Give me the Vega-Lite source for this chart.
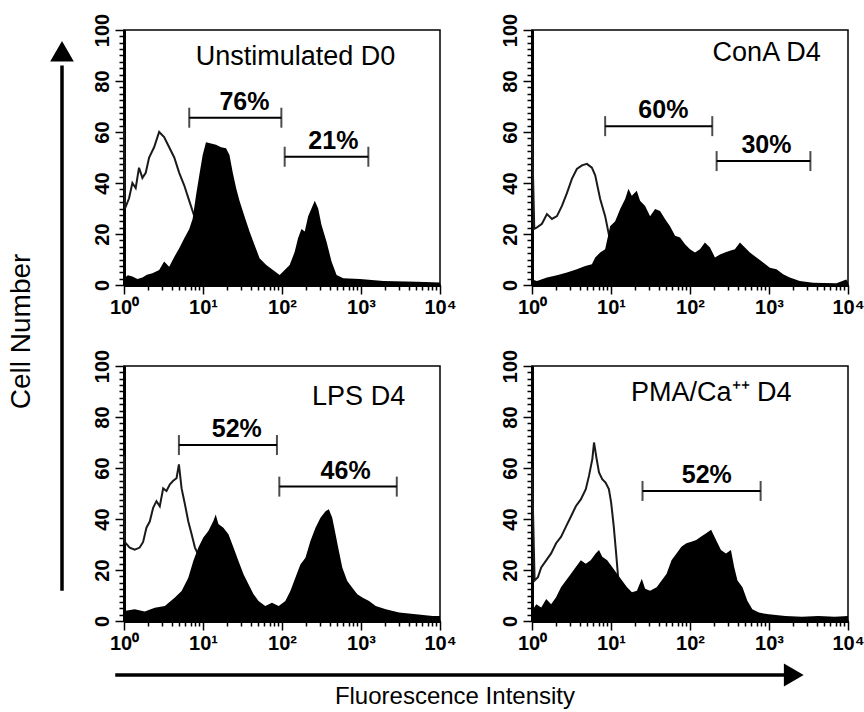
{
"$schema": "https://vega.github.io/schema/vega-lite/v6.json",
"padding": {"left": 0, "top": 12, "right": 0, "bottom": 0},
"background": "white",
"config": {
  "view": {"stroke": "black", "strokeWidth": 1.5},
  "font": "Liberation Sans",
  "axis": {"domainColor": "black", "domainWidth": 3, "tickColor": "black", "tickWidth": 1.5, "labelColor": "black", "labelFont": "Liberation Sans", "labelFontWeight": "bold", "grid": false, "title": null, "labelFlush": false, "labelBound": false},
  "axisY": {"labelAngle": 270, "labelFontSize": 20, "labelPadding": 3},
  "axisX": {"labelFontSize": 20, "labelPadding": 3},
  "area": {"color": "black", "opacity": 1},
  "line": {"stroke": "#1a1a1a", "strokeWidth": 2},
  "rule": {"color": "black", "strokeWidth": 2},
  "tick": {"color": "black", "size": 20, "thickness": 2, "orient": "vertical"},
  "text": {"color": "black", "font": "Liberation Sans"}
},
"datasets": {
"h": [
{"p":"A","k":"c","e":0,"n":62},{"p":"A","k":"c","e":0.013,"n":30},{"p":"A","k":"c","e":0.064,"n":34},{"p":"A","k":"c","e":0.106,"n":40},{"p":"A","k":"c","e":0.148,"n":38},{"p":"A","k":"c","e":0.19,"n":46},{"p":"A","k":"c","e":0.233,"n":42},{"p":"A","k":"c","e":0.275,"n":44},{"p":"A","k":"c","e":0.318,"n":50},{"p":"A","k":"c","e":0.381,"n":54},{"p":"A","k":"c","e":0.445,"n":60},{"p":"A","k":"c","e":0.508,"n":58},{"p":"A","k":"c","e":0.572,"n":54},{"p":"A","k":"c","e":0.636,"n":50},{"p":"A","k":"c","e":0.699,"n":44},{"p":"A","k":"c","e":0.763,"n":39},{"p":"A","k":"c","e":0.826,"n":33},{"p":"A","k":"c","e":0.89,"n":27},{"p":"A","k":"c","e":0.953,"n":18},{"p":"A","k":"c","e":1.038,"n":9},{"p":"A","k":"c","e":1.123,"n":4},{"p":"A","k":"c","e":1.25,"n":1},{"p":"A","k":"c","e":1.59,"n":0.5},{"p":"A","k":"c","e":2.0,"n":0.3},
{"p":"A","k":"f","e":0,"n":2.6},{"p":"A","k":"f","e":0.05,"n":3.8},{"p":"A","k":"f","e":0.106,"n":3.3},{"p":"A","k":"f","e":0.17,"n":2.4},{"p":"A","k":"f","e":0.233,"n":2.9},{"p":"A","k":"f","e":0.29,"n":4.0},{"p":"A","k":"f","e":0.36,"n":4.6},{"p":"A","k":"f","e":0.445,"n":5.9},{"p":"A","k":"f","e":0.508,"n":9.2},{"p":"A","k":"f","e":0.572,"n":7.2},{"p":"A","k":"f","e":0.636,"n":11},{"p":"A","k":"f","e":0.699,"n":14.4},{"p":"A","k":"f","e":0.763,"n":18.3},{"p":"A","k":"f","e":0.826,"n":22},{"p":"A","k":"f","e":0.869,"n":26},{"p":"A","k":"f","e":0.911,"n":35},{"p":"A","k":"f","e":0.953,"n":43},{"p":"A","k":"f","e":0.996,"n":51},{"p":"A","k":"f","e":1.038,"n":56},{"p":"A","k":"f","e":1.102,"n":55.5},{"p":"A","k":"f","e":1.165,"n":55},{"p":"A","k":"f","e":1.229,"n":54},{"p":"A","k":"f","e":1.292,"n":53.6},{"p":"A","k":"f","e":1.335,"n":51},{"p":"A","k":"f","e":1.377,"n":44},{"p":"A","k":"f","e":1.419,"n":38},{"p":"A","k":"f","e":1.462,"n":33},{"p":"A","k":"f","e":1.525,"n":27},{"p":"A","k":"f","e":1.589,"n":21},{"p":"A","k":"f","e":1.653,"n":15.7},{"p":"A","k":"f","e":1.716,"n":10.5},{"p":"A","k":"f","e":1.801,"n":7.8},{"p":"A","k":"f","e":1.886,"n":5.9},{"p":"A","k":"f","e":1.97,"n":3.9},{"p":"A","k":"f","e":2.034,"n":5.9},{"p":"A","k":"f","e":2.097,"n":7.8},{"p":"A","k":"f","e":2.161,"n":13},{"p":"A","k":"f","e":2.203,"n":18.3},{"p":"A","k":"f","e":2.246,"n":22},{"p":"A","k":"f","e":2.288,"n":21},{"p":"A","k":"f","e":2.331,"n":27},{"p":"A","k":"f","e":2.373,"n":30},{"p":"A","k":"f","e":2.415,"n":33},{"p":"A","k":"f","e":2.458,"n":30},{"p":"A","k":"f","e":2.5,"n":23.5},{"p":"A","k":"f","e":2.564,"n":17},{"p":"A","k":"f","e":2.627,"n":9.2},{"p":"A","k":"f","e":2.691,"n":3.9},{"p":"A","k":"f","e":2.775,"n":2.6},{"p":"A","k":"f","e":2.987,"n":2.4},{"p":"A","k":"f","e":3.284,"n":1.6},{"p":"A","k":"f","e":3.708,"n":1.3},{"p":"A","k":"f","e":4,"n":1},
{"p":"A","k":"g","e1":0.826,"e2":1.992,"n":65.6,"tx":1.525,"lab":"76%"},{"p":"A","k":"g","e1":2.034,"e2":3.093,"n":50.3,"tx":2.65,"lab":"21%"},
{"p":"A","k":"t","tx":2.17,"n":89.5,"lab":"Unstimulated D0"},
{"p":"B","k":"c","e":0,"n":60},{"p":"B","k":"c","e":0.029,"n":22},{"p":"B","k":"c","e":0.063,"n":22.6},{"p":"B","k":"c","e":0.126,"n":24},{"p":"B","k":"c","e":0.189,"n":27.8},{"p":"B","k":"c","e":0.253,"n":25.9},{"p":"B","k":"c","e":0.316,"n":27},{"p":"B","k":"c","e":0.379,"n":31},{"p":"B","k":"c","e":0.442,"n":36},{"p":"B","k":"c","e":0.505,"n":41.6},{"p":"B","k":"c","e":0.568,"n":45.5},{"p":"B","k":"c","e":0.632,"n":46.9},{"p":"B","k":"c","e":0.695,"n":47.5},{"p":"B","k":"c","e":0.758,"n":46},{"p":"B","k":"c","e":0.8,"n":43},{"p":"B","k":"c","e":0.863,"n":33.7},{"p":"B","k":"c","e":0.926,"n":27},{"p":"B","k":"c","e":0.968,"n":20.6},{"p":"B","k":"c","e":1.011,"n":14},{"p":"B","k":"c","e":1.074,"n":7.5},{"p":"B","k":"c","e":1.2,"n":2.2},{"p":"B","k":"c","e":1.41,"n":1},{"p":"B","k":"c","e":2.0,"n":0.5},
{"p":"B","k":"f","e":0,"n":2.2},{"p":"B","k":"f","e":0.063,"n":1.6},{"p":"B","k":"f","e":0.189,"n":2.9},{"p":"B","k":"f","e":0.316,"n":3.8},{"p":"B","k":"f","e":0.442,"n":4.9},{"p":"B","k":"f","e":0.568,"n":6.2},{"p":"B","k":"f","e":0.674,"n":7.5},{"p":"B","k":"f","e":0.758,"n":8.1},{"p":"B","k":"f","e":0.8,"n":10.8},{"p":"B","k":"f","e":0.863,"n":12.7},{"p":"B","k":"f","e":0.926,"n":14},{"p":"B","k":"f","e":0.989,"n":23},{"p":"B","k":"f","e":1.053,"n":25},{"p":"B","k":"f","e":1.116,"n":29.8},{"p":"B","k":"f","e":1.179,"n":33.7},{"p":"B","k":"f","e":1.221,"n":37.7},{"p":"B","k":"f","e":1.263,"n":35},{"p":"B","k":"f","e":1.326,"n":37},{"p":"B","k":"f","e":1.368,"n":33},{"p":"B","k":"f","e":1.432,"n":31},{"p":"B","k":"f","e":1.495,"n":27},{"p":"B","k":"f","e":1.558,"n":29.8},{"p":"B","k":"f","e":1.621,"n":29},{"p":"B","k":"f","e":1.684,"n":25.9},{"p":"B","k":"f","e":1.747,"n":23},{"p":"B","k":"f","e":1.811,"n":19.3},{"p":"B","k":"f","e":1.874,"n":18.6},{"p":"B","k":"f","e":1.937,"n":16},{"p":"B","k":"f","e":2.0,"n":14},{"p":"B","k":"f","e":2.063,"n":12.7},{"p":"B","k":"f","e":2.126,"n":14},{"p":"B","k":"f","e":2.189,"n":16.7},{"p":"B","k":"f","e":2.253,"n":14.7},{"p":"B","k":"f","e":2.316,"n":10.8},{"p":"B","k":"f","e":2.379,"n":12},{"p":"B","k":"f","e":2.442,"n":12.7},{"p":"B","k":"f","e":2.505,"n":13.4},{"p":"B","k":"f","e":2.568,"n":14},{"p":"B","k":"f","e":2.632,"n":16.7},{"p":"B","k":"f","e":2.695,"n":14.7},{"p":"B","k":"f","e":2.758,"n":12.7},{"p":"B","k":"f","e":2.842,"n":10.8},{"p":"B","k":"f","e":2.926,"n":8.8},{"p":"B","k":"f","e":3.011,"n":6.8},{"p":"B","k":"f","e":3.095,"n":6.2},{"p":"B","k":"f","e":3.179,"n":4.2},{"p":"B","k":"f","e":3.263,"n":2.9},{"p":"B","k":"f","e":3.389,"n":1.6},{"p":"B","k":"f","e":3.558,"n":0.9},{"p":"B","k":"f","e":3.853,"n":0.7},{"p":"B","k":"f","e":3.979,"n":2.2},{"p":"B","k":"f","e":4,"n":1},
{"p":"B","k":"g","e1":0.926,"e2":2.282,"n":62.3,"tx":1.663,"lab":"60%"},{"p":"B","k":"g","e1":2.337,"e2":3.524,"n":48.6,"tx":2.968,"lab":"30%"},
{"p":"B","k":"t","tx":2.97,"n":90.8,"lab":"ConA D4"},
{"p":"C","k":"c","e":0,"n":65},{"p":"C","k":"c","e":0.008,"n":31},{"p":"C","k":"c","e":0.072,"n":28.8},{"p":"C","k":"c","e":0.136,"n":28},{"p":"C","k":"c","e":0.199,"n":28.8},{"p":"C","k":"c","e":0.242,"n":31},{"p":"C","k":"c","e":0.284,"n":36.6},{"p":"C","k":"c","e":0.326,"n":39},{"p":"C","k":"c","e":0.369,"n":44.4},{"p":"C","k":"c","e":0.411,"n":47},{"p":"C","k":"c","e":0.453,"n":45},{"p":"C","k":"c","e":0.496,"n":52},{"p":"C","k":"c","e":0.538,"n":51},{"p":"C","k":"c","e":0.581,"n":53.6},{"p":"C","k":"c","e":0.623,"n":55},{"p":"C","k":"c","e":0.665,"n":56},{"p":"C","k":"c","e":0.695,"n":61.4},{"p":"C","k":"c","e":0.729,"n":52},{"p":"C","k":"c","e":0.771,"n":45.8},{"p":"C","k":"c","e":0.814,"n":39},{"p":"C","k":"c","e":0.856,"n":34},{"p":"C","k":"c","e":0.898,"n":28.8},{"p":"C","k":"c","e":0.941,"n":26},{"p":"C","k":"c","e":1.025,"n":18},{"p":"C","k":"c","e":1.131,"n":10},{"p":"C","k":"c","e":1.28,"n":5},{"p":"C","k":"c","e":1.492,"n":2.6},{"p":"C","k":"c","e":1.873,"n":1.3},
{"p":"C","k":"f","e":0,"n":3.9},{"p":"C","k":"f","e":0.136,"n":4.6},{"p":"C","k":"f","e":0.263,"n":3.7},{"p":"C","k":"f","e":0.39,"n":5.2},{"p":"C","k":"f","e":0.517,"n":5.9},{"p":"C","k":"f","e":0.644,"n":9.2},{"p":"C","k":"f","e":0.729,"n":11.8},{"p":"C","k":"f","e":0.814,"n":17},{"p":"C","k":"f","e":0.877,"n":23.5},{"p":"C","k":"f","e":0.941,"n":28.8},{"p":"C","k":"f","e":1.004,"n":32.7},{"p":"C","k":"f","e":1.068,"n":35.3},{"p":"C","k":"f","e":1.131,"n":39.2},{"p":"C","k":"f","e":1.161,"n":41.8},{"p":"C","k":"f","e":1.195,"n":38},{"p":"C","k":"f","e":1.258,"n":36.6},{"p":"C","k":"f","e":1.322,"n":34},{"p":"C","k":"f","e":1.386,"n":28.8},{"p":"C","k":"f","e":1.449,"n":23.5},{"p":"C","k":"f","e":1.513,"n":18.3},{"p":"C","k":"f","e":1.576,"n":14.4},{"p":"C","k":"f","e":1.64,"n":10.5},{"p":"C","k":"f","e":1.703,"n":7.8},{"p":"C","k":"f","e":1.788,"n":5.9},{"p":"C","k":"f","e":1.873,"n":7.2},{"p":"C","k":"f","e":1.958,"n":5.9},{"p":"C","k":"f","e":2.042,"n":7.8},{"p":"C","k":"f","e":2.106,"n":11.8},{"p":"C","k":"f","e":2.169,"n":17},{"p":"C","k":"f","e":2.233,"n":22.2},{"p":"C","k":"f","e":2.297,"n":24.8},{"p":"C","k":"f","e":2.36,"n":31.4},{"p":"C","k":"f","e":2.424,"n":36.6},{"p":"C","k":"f","e":2.487,"n":40.5},{"p":"C","k":"f","e":2.551,"n":43},{"p":"C","k":"f","e":2.593,"n":43.8},{"p":"C","k":"f","e":2.636,"n":40.5},{"p":"C","k":"f","e":2.678,"n":34},{"p":"C","k":"f","e":2.72,"n":27.5},{"p":"C","k":"f","e":2.763,"n":21},{"p":"C","k":"f","e":2.826,"n":15.7},{"p":"C","k":"f","e":2.89,"n":13},{"p":"C","k":"f","e":2.953,"n":10.5},{"p":"C","k":"f","e":3.017,"n":9.2},{"p":"C","k":"f","e":3.102,"n":7.8},{"p":"C","k":"f","e":3.186,"n":5.9},{"p":"C","k":"f","e":3.314,"n":4.6},{"p":"C","k":"f","e":3.483,"n":3.3},{"p":"C","k":"f","e":3.695,"n":2.6},{"p":"C","k":"f","e":3.907,"n":2},{"p":"C","k":"f","e":4,"n":2},
{"p":"C","k":"g","e1":0.695,"e2":1.936,"n":69,"tx":1.428,"lab":"52%"},{"p":"C","k":"g","e1":1.966,"e2":3.453,"n":52.7,"tx":2.805,"lab":"46%"},
{"p":"C","k":"t","tx":2.97,"n":88,"lab":"LPS D4"},
{"p":"D","k":"c","e":0,"n":60},{"p":"D","k":"c","e":0.033,"n":15.9},{"p":"D","k":"c","e":0.075,"n":17.2},{"p":"D","k":"c","e":0.117,"n":21},{"p":"D","k":"c","e":0.18,"n":23.8},{"p":"D","k":"c","e":0.242,"n":26.5},{"p":"D","k":"c","e":0.305,"n":30.5},{"p":"D","k":"c","e":0.367,"n":33},{"p":"D","k":"c","e":0.43,"n":37},{"p":"D","k":"c","e":0.493,"n":41},{"p":"D","k":"c","e":0.555,"n":45},{"p":"D","k":"c","e":0.618,"n":47.7},{"p":"D","k":"c","e":0.681,"n":51.7},{"p":"D","k":"c","e":0.722,"n":57},{"p":"D","k":"c","e":0.764,"n":63.6},{"p":"D","k":"c","e":0.785,"n":70},{"p":"D","k":"c","e":0.818,"n":63.6},{"p":"D","k":"c","e":0.848,"n":58.3},{"p":"D","k":"c","e":0.889,"n":55.6},{"p":"D","k":"c","e":0.931,"n":54.3},{"p":"D","k":"c","e":0.973,"n":51.7},{"p":"D","k":"c","e":1.002,"n":46.4},{"p":"D","k":"c","e":1.035,"n":37},{"p":"D","k":"c","e":1.065,"n":26.5},{"p":"D","k":"c","e":1.09,"n":17.2},{"p":"D","k":"c","e":1.119,"n":9.3},{"p":"D","k":"c","e":1.203,"n":4},{"p":"D","k":"c","e":1.411,"n":1.3},{"p":"D","k":"c","e":1.745,"n":0.7},
{"p":"D","k":"f","e":0,"n":4},{"p":"D","k":"f","e":0.054,"n":6.6},{"p":"D","k":"f","e":0.117,"n":5.3},{"p":"D","k":"f","e":0.18,"n":8.6},{"p":"D","k":"f","e":0.242,"n":6.6},{"p":"D","k":"f","e":0.305,"n":9.3},{"p":"D","k":"f","e":0.367,"n":13.2},{"p":"D","k":"f","e":0.43,"n":15.9},{"p":"D","k":"f","e":0.493,"n":18.5},{"p":"D","k":"f","e":0.555,"n":21.2},{"p":"D","k":"f","e":0.618,"n":23.8},{"p":"D","k":"f","e":0.681,"n":22.5},{"p":"D","k":"f","e":0.743,"n":23.8},{"p":"D","k":"f","e":0.806,"n":26.5},{"p":"D","k":"f","e":0.848,"n":27.8},{"p":"D","k":"f","e":0.889,"n":25.2},{"p":"D","k":"f","e":0.952,"n":23.8},{"p":"D","k":"f","e":1.015,"n":21.2},{"p":"D","k":"f","e":1.077,"n":18.5},{"p":"D","k":"f","e":1.14,"n":15.9},{"p":"D","k":"f","e":1.203,"n":13.2},{"p":"D","k":"f","e":1.265,"n":11.3},{"p":"D","k":"f","e":1.328,"n":11.9},{"p":"D","k":"f","e":1.39,"n":16.6},{"p":"D","k":"f","e":1.432,"n":12.6},{"p":"D","k":"f","e":1.495,"n":11.9},{"p":"D","k":"f","e":1.578,"n":13.2},{"p":"D","k":"f","e":1.641,"n":15.9},{"p":"D","k":"f","e":1.704,"n":18.5},{"p":"D","k":"f","e":1.766,"n":23.8},{"p":"D","k":"f","e":1.829,"n":26.5},{"p":"D","k":"f","e":1.891,"n":29.1},{"p":"D","k":"f","e":1.954,"n":30.5},{"p":"D","k":"f","e":2.017,"n":31.1},{"p":"D","k":"f","e":2.079,"n":31.8},{"p":"D","k":"f","e":2.142,"n":33.1},{"p":"D","k":"f","e":2.205,"n":34.4},{"p":"D","k":"f","e":2.267,"n":35.8},{"p":"D","k":"f","e":2.33,"n":31.8},{"p":"D","k":"f","e":2.392,"n":27.8},{"p":"D","k":"f","e":2.455,"n":26.5},{"p":"D","k":"f","e":2.518,"n":27.8},{"p":"D","k":"f","e":2.559,"n":21.2},{"p":"D","k":"f","e":2.601,"n":15.9},{"p":"D","k":"f","e":2.664,"n":13.2},{"p":"D","k":"f","e":2.726,"n":7.9},{"p":"D","k":"f","e":2.789,"n":4.6},{"p":"D","k":"f","e":2.873,"n":3.3},{"p":"D","k":"f","e":2.998,"n":2.6},{"p":"D","k":"f","e":3.207,"n":2},{"p":"D","k":"f","e":3.415,"n":1.7},{"p":"D","k":"f","e":3.624,"n":2},{"p":"D","k":"f","e":3.833,"n":1.7},{"p":"D","k":"f","e":4,"n":2},
{"p":"D","k":"g","e1":1.399,"e2":2.894,"n":51,"tx":2.213,"lab":"52%"},
{"p":"D","k":"t","tx":2.27,"n":89.4,"lab":"PMA/Ca⁺⁺ D4"}
]
},
"vconcat": [
 {
  "hconcat": [
   {
    "data": {"values": [{"a": 1}]},
    "width": 80, "height": 591,
    "view": {"stroke": null},
    "layer": [
     {"mark": {"type": "rule", "strokeWidth": 3.5},
      "encoding": {"x": {"datum": 77.5, "type": "quantitative", "scale": {"domain": [0, 100], "nice": false}, "axis": null},
                   "y": {"datum": 5.1, "type": "quantitative", "scale": {"domain": [0, 100], "nice": false}, "axis": null},
                   "y2": {"datum": 94}}},
     {"mark": {"type": "point", "shape": "triangle-up", "filled": true, "color": "black", "size": 560, "opacity": 1},
      "encoding": {"x": {"datum": 77.5, "type": "quantitative"}, "y": {"datum": 96.4, "type": "quantitative"}}},
     {"mark": {"type": "text", "text": "Cell Number", "angle": 270, "fontSize": 28, "baseline": "middle", "align": "center"},
      "encoding": {"x": {"datum": 27.5, "type": "quantitative"}, "y": {"datum": 49, "type": "quantitative"}}}
    ]
   },
   {
    "data": {"name": "h"},
    "columns": 2,
    "spacing": {"row": 81, "column": 92},
    "bounds": "flush",
    "concat": [
     {
      "width": 316, "height": 255,
      "transform": [{"filter": "datum.p == 'A'"}],
      "resolve": {"axis": {"x": "independent", "y": "independent"}},
      "layer": [
       {"transform": [{"filter": "datum.k == 'c'"}], "mark": "line",
        "encoding": {
         "x": {"field": "e", "type": "quantitative", "scale": {"domain": [0, 4], "nice": false, "zero": false},
               "axis": {"orient": "bottom", "values": [0,1,2,3,4], "tickSize": 9, "labelExpr": "'10' + ['⁰','¹','²','³','⁴'][round(datum.value)]"}},
         "y": {"field": "n", "type": "quantitative", "scale": {"domain": [0, 100], "nice": false},
               "axis": {"orient": "left", "values": [0,20,40,60,80,100], "tickSize": 9}}}},
       {"transform": [{"filter": "datum.k == 'f'"}], "mark": "area",
        "encoding": {
         "x": {"field": "e", "type": "quantitative",
               "axis": {"orient": "bottom", "labels": false, "tickSize": 5, "values": [0.301,0.477,0.602,0.699,0.778,0.845,0.903,0.954,1.301,1.477,1.602,1.699,1.778,1.845,1.903,1.954,2.301,2.477,2.602,2.699,2.778,2.845,2.903,2.954,3.301,3.477,3.602,3.699,3.778,3.845,3.903,3.954]}},
         "y": {"field": "n", "type": "quantitative",
               "axis": {"orient": "left", "labels": false, "tickSize": 5, "values": [2.5,5,7.5,10,12.5,15,17.5,22.5,25,27.5,30,32.5,35,37.5,42.5,45,47.5,50,52.5,55,57.5,62.5,65,67.5,70,72.5,75,77.5,82.5,85,87.5,90,92.5,95,97.5]}}}},
       {"transform": [{"filter": "datum.k == 'g'"}], "mark": "rule",
        "encoding": {"x": {"field": "e1", "type": "quantitative", "axis": null}, "x2": {"field": "e2"}, "y": {"field": "n", "type": "quantitative", "axis": null}}},
       {"transform": [{"filter": "datum.k == 'g'"}], "mark": "tick",
        "encoding": {"x": {"field": "e1", "type": "quantitative", "axis": null}, "y": {"field": "n", "type": "quantitative", "axis": null}}},
       {"transform": [{"filter": "datum.k == 'g'"}], "mark": "tick",
        "encoding": {"x": {"field": "e2", "type": "quantitative", "axis": null}, "y": {"field": "n", "type": "quantitative", "axis": null}}},
       {"transform": [{"filter": "datum.k == 'g'"}], "mark": {"type": "text", "fontSize": 25, "fontWeight": "bold", "baseline": "alphabetic", "align": "center", "dy": -8},
        "encoding": {"x": {"field": "tx", "type": "quantitative", "axis": null}, "y": {"field": "n", "type": "quantitative", "axis": null}, "text": {"field": "lab"}}},
       {"transform": [{"filter": "datum.k == 't'"}], "mark": {"type": "text", "fontSize": 27, "baseline": "middle", "align": "center"},
        "encoding": {"x": {"field": "tx", "type": "quantitative", "axis": null}, "y": {"field": "n", "type": "quantitative", "axis": null}, "text": {"field": "lab"}}}
      ]
     },
     {
      "width": 316, "height": 255,
      "transform": [{"filter": "datum.p == 'B'"}],
      "resolve": {"axis": {"x": "independent", "y": "independent"}},
      "layer": [
       {"transform": [{"filter": "datum.k == 'c'"}], "mark": "line",
        "encoding": {
         "x": {"field": "e", "type": "quantitative", "scale": {"domain": [0, 4], "nice": false, "zero": false},
               "axis": {"orient": "bottom", "values": [0,1,2,3,4], "tickSize": 9, "labelExpr": "'10' + ['⁰','¹','²','³','⁴'][round(datum.value)]"}},
         "y": {"field": "n", "type": "quantitative", "scale": {"domain": [0, 100], "nice": false},
               "axis": {"orient": "left", "values": [0,20,40,60,80,100], "tickSize": 9}}}},
       {"transform": [{"filter": "datum.k == 'f'"}], "mark": "area",
        "encoding": {
         "x": {"field": "e", "type": "quantitative",
               "axis": {"orient": "bottom", "labels": false, "tickSize": 5, "values": [0.301,0.477,0.602,0.699,0.778,0.845,0.903,0.954,1.301,1.477,1.602,1.699,1.778,1.845,1.903,1.954,2.301,2.477,2.602,2.699,2.778,2.845,2.903,2.954,3.301,3.477,3.602,3.699,3.778,3.845,3.903,3.954]}},
         "y": {"field": "n", "type": "quantitative",
               "axis": {"orient": "left", "labels": false, "tickSize": 5, "values": [2.5,5,7.5,10,12.5,15,17.5,22.5,25,27.5,30,32.5,35,37.5,42.5,45,47.5,50,52.5,55,57.5,62.5,65,67.5,70,72.5,75,77.5,82.5,85,87.5,90,92.5,95,97.5]}}}},
       {"transform": [{"filter": "datum.k == 'g'"}], "mark": "rule",
        "encoding": {"x": {"field": "e1", "type": "quantitative", "axis": null}, "x2": {"field": "e2"}, "y": {"field": "n", "type": "quantitative", "axis": null}}},
       {"transform": [{"filter": "datum.k == 'g'"}], "mark": "tick",
        "encoding": {"x": {"field": "e1", "type": "quantitative", "axis": null}, "y": {"field": "n", "type": "quantitative", "axis": null}}},
       {"transform": [{"filter": "datum.k == 'g'"}], "mark": "tick",
        "encoding": {"x": {"field": "e2", "type": "quantitative", "axis": null}, "y": {"field": "n", "type": "quantitative", "axis": null}}},
       {"transform": [{"filter": "datum.k == 'g'"}], "mark": {"type": "text", "fontSize": 25, "fontWeight": "bold", "baseline": "alphabetic", "align": "center", "dy": -8},
        "encoding": {"x": {"field": "tx", "type": "quantitative", "axis": null}, "y": {"field": "n", "type": "quantitative", "axis": null}, "text": {"field": "lab"}}},
       {"transform": [{"filter": "datum.k == 't'"}], "mark": {"type": "text", "fontSize": 27, "baseline": "middle", "align": "center"},
        "encoding": {"x": {"field": "tx", "type": "quantitative", "axis": null}, "y": {"field": "n", "type": "quantitative", "axis": null}, "text": {"field": "lab"}}}
      ]
     },
     {
      "width": 316, "height": 255,
      "transform": [{"filter": "datum.p == 'C'"}],
      "resolve": {"axis": {"x": "independent", "y": "independent"}},
      "layer": [
       {"transform": [{"filter": "datum.k == 'c'"}], "mark": "line",
        "encoding": {
         "x": {"field": "e", "type": "quantitative", "scale": {"domain": [0, 4], "nice": false, "zero": false},
               "axis": {"orient": "bottom", "values": [0,1,2,3,4], "tickSize": 9, "labelExpr": "'10' + ['⁰','¹','²','³','⁴'][round(datum.value)]"}},
         "y": {"field": "n", "type": "quantitative", "scale": {"domain": [0, 100], "nice": false},
               "axis": {"orient": "left", "values": [0,20,40,60,80,100], "tickSize": 9}}}},
       {"transform": [{"filter": "datum.k == 'f'"}], "mark": "area",
        "encoding": {
         "x": {"field": "e", "type": "quantitative",
               "axis": {"orient": "bottom", "labels": false, "tickSize": 5, "values": [0.301,0.477,0.602,0.699,0.778,0.845,0.903,0.954,1.301,1.477,1.602,1.699,1.778,1.845,1.903,1.954,2.301,2.477,2.602,2.699,2.778,2.845,2.903,2.954,3.301,3.477,3.602,3.699,3.778,3.845,3.903,3.954]}},
         "y": {"field": "n", "type": "quantitative",
               "axis": {"orient": "left", "labels": false, "tickSize": 5, "values": [2.5,5,7.5,10,12.5,15,17.5,22.5,25,27.5,30,32.5,35,37.5,42.5,45,47.5,50,52.5,55,57.5,62.5,65,67.5,70,72.5,75,77.5,82.5,85,87.5,90,92.5,95,97.5]}}}},
       {"transform": [{"filter": "datum.k == 'g'"}], "mark": "rule",
        "encoding": {"x": {"field": "e1", "type": "quantitative", "axis": null}, "x2": {"field": "e2"}, "y": {"field": "n", "type": "quantitative", "axis": null}}},
       {"transform": [{"filter": "datum.k == 'g'"}], "mark": "tick",
        "encoding": {"x": {"field": "e1", "type": "quantitative", "axis": null}, "y": {"field": "n", "type": "quantitative", "axis": null}}},
       {"transform": [{"filter": "datum.k == 'g'"}], "mark": "tick",
        "encoding": {"x": {"field": "e2", "type": "quantitative", "axis": null}, "y": {"field": "n", "type": "quantitative", "axis": null}}},
       {"transform": [{"filter": "datum.k == 'g'"}], "mark": {"type": "text", "fontSize": 25, "fontWeight": "bold", "baseline": "alphabetic", "align": "center", "dy": -8},
        "encoding": {"x": {"field": "tx", "type": "quantitative", "axis": null}, "y": {"field": "n", "type": "quantitative", "axis": null}, "text": {"field": "lab"}}},
       {"transform": [{"filter": "datum.k == 't'"}], "mark": {"type": "text", "fontSize": 27, "baseline": "middle", "align": "center"},
        "encoding": {"x": {"field": "tx", "type": "quantitative", "axis": null}, "y": {"field": "n", "type": "quantitative", "axis": null}, "text": {"field": "lab"}}}
      ]
     },
     {
      "width": 316, "height": 255,
      "transform": [{"filter": "datum.p == 'D'"}],
      "resolve": {"axis": {"x": "independent", "y": "independent"}},
      "layer": [
       {"transform": [{"filter": "datum.k == 'c'"}], "mark": "line",
        "encoding": {
         "x": {"field": "e", "type": "quantitative", "scale": {"domain": [0, 4], "nice": false, "zero": false},
               "axis": {"orient": "bottom", "values": [0,1,2,3,4], "tickSize": 9, "labelExpr": "'10' + ['⁰','¹','²','³','⁴'][round(datum.value)]"}},
         "y": {"field": "n", "type": "quantitative", "scale": {"domain": [0, 100], "nice": false},
               "axis": {"orient": "left", "values": [0,20,40,60,80,100], "tickSize": 9}}}},
       {"transform": [{"filter": "datum.k == 'f'"}], "mark": "area",
        "encoding": {
         "x": {"field": "e", "type": "quantitative",
               "axis": {"orient": "bottom", "labels": false, "tickSize": 5, "values": [0.301,0.477,0.602,0.699,0.778,0.845,0.903,0.954,1.301,1.477,1.602,1.699,1.778,1.845,1.903,1.954,2.301,2.477,2.602,2.699,2.778,2.845,2.903,2.954,3.301,3.477,3.602,3.699,3.778,3.845,3.903,3.954]}},
         "y": {"field": "n", "type": "quantitative",
               "axis": {"orient": "left", "labels": false, "tickSize": 5, "values": [2.5,5,7.5,10,12.5,15,17.5,22.5,25,27.5,30,32.5,35,37.5,42.5,45,47.5,50,52.5,55,57.5,62.5,65,67.5,70,72.5,75,77.5,82.5,85,87.5,90,92.5,95,97.5]}}}},
       {"transform": [{"filter": "datum.k == 'g'"}], "mark": "rule",
        "encoding": {"x": {"field": "e1", "type": "quantitative", "axis": null}, "x2": {"field": "e2"}, "y": {"field": "n", "type": "quantitative", "axis": null}}},
       {"transform": [{"filter": "datum.k == 'g'"}], "mark": "tick",
        "encoding": {"x": {"field": "e1", "type": "quantitative", "axis": null}, "y": {"field": "n", "type": "quantitative", "axis": null}}},
       {"transform": [{"filter": "datum.k == 'g'"}], "mark": "tick",
        "encoding": {"x": {"field": "e2", "type": "quantitative", "axis": null}, "y": {"field": "n", "type": "quantitative", "axis": null}}},
       {"transform": [{"filter": "datum.k == 'g'"}], "mark": {"type": "text", "fontSize": 25, "fontWeight": "bold", "baseline": "alphabetic", "align": "center", "dy": -8},
        "encoding": {"x": {"field": "tx", "type": "quantitative", "axis": null}, "y": {"field": "n", "type": "quantitative", "axis": null}, "text": {"field": "lab"}}},
       {"transform": [{"filter": "datum.k == 't'"}], "mark": {"type": "text", "fontSize": 27, "baseline": "middle", "align": "center"},
        "encoding": {"x": {"field": "tx", "type": "quantitative", "axis": null}, "y": {"field": "n", "type": "quantitative", "axis": null}, "text": {"field": "lab"}}}
      ]
     }
    ]
   }
  ],
  "spacing": 44,
  "bounds": "flush"
 },
 {
  "data": {"values": [{"a": 1}]},
  "width": 860, "height": 56,
  "view": {"stroke": null},
  "layer": [
   {"mark": {"type": "rule", "strokeWidth": 3.5},
    "encoding": {"x": {"datum": 13.4, "type": "quantitative", "scale": {"domain": [0, 100], "nice": false}, "axis": null},
                 "x2": {"datum": 91.5},
                 "y": {"datum": 62.5, "type": "quantitative", "scale": {"domain": [0, 100], "nice": false}, "axis": null}}},
   {"mark": {"type": "point", "shape": "triangle-right", "filled": true, "color": "black", "size": 520, "opacity": 1},
    "encoding": {"x": {"datum": 92.3, "type": "quantitative"}, "y": {"datum": 62.5, "type": "quantitative"}}},
   {"mark": {"type": "text", "text": "Fluorescence Intensity", "fontSize": 24, "baseline": "middle", "align": "center"},
    "encoding": {"x": {"datum": 52.9, "type": "quantitative"}, "y": {"datum": 23.2, "type": "quantitative"}}}
  ]
 }
],
"spacing": 0
}
